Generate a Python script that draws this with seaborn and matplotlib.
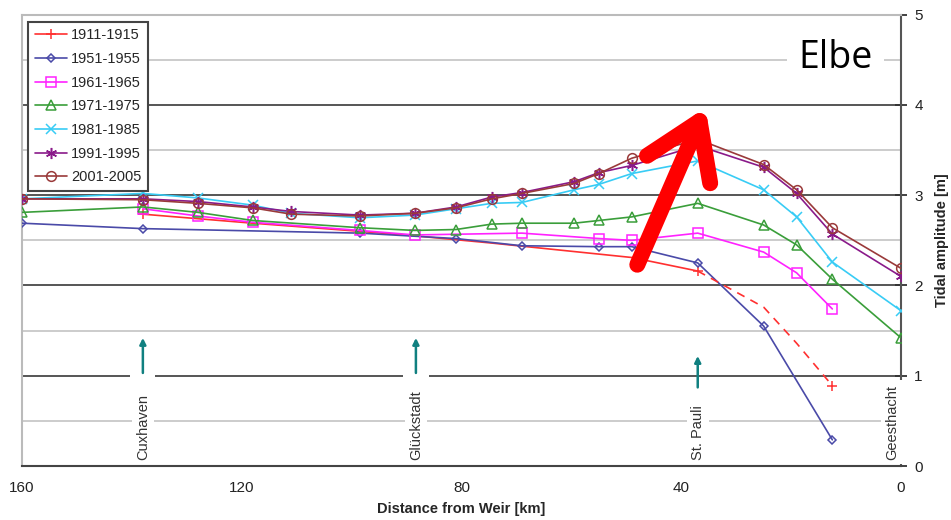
import matplotlib
matplotlib.use("Agg")
import matplotlib.pyplot as plt
import seaborn as sns
from matplotlib.patches import FancyArrowPatch, Rectangle

# distance from the weir [km] and tidal amplitude [m]
km_full = [160, 138, 128, 118, 111, 98.5, 88.5, 81, 74.5, 69, 59.5, 55, 49, 37, 25, 19, 12.5, 0]
amp_2001 = [2.96, 2.95, 2.91, 2.86, 2.79, 2.77, 2.80, 2.86, 2.96, 3.02, 3.13, 3.24, 3.41, 3.62, 3.34, 3.06, 2.64, 2.19]
amp_1991 = [2.96, 2.96, 2.93, 2.87, 2.82, 2.78, 2.80, 2.87, 2.98, 3.03, 3.15, 3.25, 3.33, 3.55, 3.31, 3.02, 2.57, 2.10]
amp_1981 = [2.96, 3.02, 2.97, 2.89, 2.80, 2.75, 2.78, 2.85, 2.91, 2.92, 3.06, 3.12, 3.24, 3.38, 3.06, 2.76, 2.26, 1.72]

km_1971 = [160, 138, 128, 118, 98.5, 88.5, 81, 74.5, 69, 59.5, 55, 49, 37, 25, 19, 12.5, 0]
amp_1971 = [2.81, 2.87, 2.81, 2.72, 2.64, 2.61, 2.62, 2.68, 2.69, 2.69, 2.72, 2.76, 2.91, 2.67, 2.45, 2.07, 1.42]

km_1961 = [138, 128, 118, 98.5, 88.5, 69, 55, 49, 37, 25, 19, 12.5]
amp_1961 = [2.85, 2.77, 2.70, 2.61, 2.56, 2.58, 2.52, 2.50, 2.58, 2.37, 2.14, 1.74]

km_1951 = [160, 138, 98.5, 81, 69, 55, 49, 37, 25, 12.5]
amp_1951 = [2.69, 2.63, 2.58, 2.52, 2.44, 2.43, 2.43, 2.25, 1.55, 0.29]

km_1911 = [138, 118, 98.5, 88.5, 74.5, 49, 37]
amp_1911 = [2.79, 2.69, 2.60, 2.55, 2.47, 2.31, 2.16]
km_1911_est = [37, 25, 19, 12.5]
amp_1911_est = [2.16, 1.76, 1.36, 0.89]

stations = ["Cuxhaven", "Glückstadt", "St. Pauli", "Geesthacht"]
station_km = [138, 88.3, 37, 1.6]

sns.set_style("white")
plt.rcParams["font.family"] = ["Liberation Sans", "DejaVu Sans"]

fig = plt.figure(figsize=(9.51, 5.2), dpi=100)
ax = fig.add_axes([22 / 951, 1 - 466 / 520, 879 / 951, (466 - 14.7) / 520])

series = [
    ("1911-1915", km_1911, amp_1911, "#ff3030", "+", 7, dict(markevery=[0, 6])),
    ("1951-1955", km_1951, amp_1951, "#4a4aa8", "D", 4.5, {}),
    ("1961-1965", km_1961, amp_1961, "#ff22ff", "s", 7, {}),
    ("1971-1975", km_1971, amp_1971, "#3a9e3a", "^", 7, {}),
    ("1981-1985", km_full, amp_1981, "#38ccf5", "x", 7, {}),
    ("1991-1995", km_full, amp_1991, "#8a1a8a", (6, 2, 0), 8, {}),
    ("2001-2005", km_full, amp_2001, "#9a3a3a", "o", 7, {}),
]

for label, xs, ys, col, mk, ms, extra in series:
    face = col if mk in ("+", "x", (6, 2, 0)) else "none"
    sns.lineplot(x=xs, y=ys, ax=ax, color=col, marker=mk, markersize=ms,
                 markerfacecolor=face, markeredgecolor=col, markeredgewidth=1.1,
                 linewidth=1.2, sort=False, label=label, zorder=4, **extra)

# 1911-1915 estimated part
sns.lineplot(x=km_1911_est, y=amp_1911_est, ax=ax, color="#ff3030", linestyle=(0, (5, 4)),
             linewidth=1.2, sort=False, zorder=4, legend=False)
sns.scatterplot(x=km_1911_est[-1:], y=amp_1911_est[-1:], ax=ax, color="#ff3030", marker="+",
                s=50, linewidth=1.1, zorder=4, legend=False)

ax.set_xlim(160, 0)
ax.set_ylim(0, 5)
ax.set_xticks([160, 120, 80, 40, 0])
ax.yaxis.tick_right()
ax.yaxis.set_label_position("right")
ax.set_yticks([0, 1, 2, 3, 4, 5])
ax.set_yticks([0.5, 1.5, 2.5, 3.5, 4.5], minor=True)
ax.grid(which="major", axis="y", color="#555555", linewidth=1.4, zorder=0)
ax.grid(which="minor", axis="y", color="#cccccc", linewidth=1.4, zorder=0)
ax.tick_params(axis="x", direction="out", length=5, width=1.3, colors="#333333",
               labelsize=11, labelcolor="#222222", pad=6)
ax.tick_params(axis="y", which="major", direction="inout", length=9, width=1.3,
               colors="#333333", labelsize=11, labelcolor="#222222", pad=5)
ax.tick_params(axis="y", which="minor", length=0)
ax.spines["left"].set_color("#bbbbbb")
ax.spines["top"].set_color("#bbbbbb")
ax.spines["right"].set_color("#555555")
ax.spines["bottom"].set_color("#444444")
for s in ax.spines.values():
    s.set_linewidth(1.5)

ax.set_xlabel("Distance from Weir [km]", fontsize=10.5, fontweight="bold", labelpad=5)
ax.set_ylabel("Tidal amplitude [m]", fontsize=10.5, fontweight="bold", labelpad=9)

# station labels and arrows
for name, x in zip(stations, station_km):
    ax.text(x, 0.07, name, rotation=90, ha="center", va="bottom", fontsize=10.5,
            color="#333333", zorder=3,
            bbox=dict(facecolor="white", edgecolor="none", pad=3))
for x, y0, y1 in [(138, 1.0, 1.45), (88.3, 1.0, 1.45), (37, 0.84, 1.25)]:
    if x != 37:
        ax.add_patch(Rectangle((x - 2.3, 0.9), 4.6, 0.15, facecolor="white",
                               edgecolor="none", zorder=2))
    ax.annotate("", xy=(x, y1), xytext=(x, y0),
                arrowprops=dict(arrowstyle="-|>", color="#108080", lw=1.8,
                                mutation_scale=9), zorder=3)

# big red arrow
ax.add_patch(FancyArrowPatch((48, 2.23), (35.6, 3.97),
                             arrowstyle="->,head_length=0.95,head_width=0.62",
                             color="#ff0000", lw=11.5, mutation_scale=40, capstyle="round",
                             joinstyle="round", shrinkA=0, shrinkB=0, zorder=6))

ax.text(0.925, 0.905, "Elbe", transform=ax.transAxes, ha="center", va="center",
        fontsize=27, family=["Open Sans", "DejaVu Sans"], color="black", zorder=5,
        bbox=dict(facecolor="white", edgecolor="none", pad=8))

leg = ax.legend(loc="upper left", bbox_to_anchor=(0.007, 0.984), fontsize=10.5,
                frameon=True, fancybox=False, framealpha=1, edgecolor="#444444",
                handlelength=2.2, labelspacing=0.66, borderpad=0.45, handletextpad=0.3,
                borderaxespad=0)
leg.get_frame().set_linewidth(1.5)
leg.set_zorder(7)

fig.savefig("out.png", dpi=100)
